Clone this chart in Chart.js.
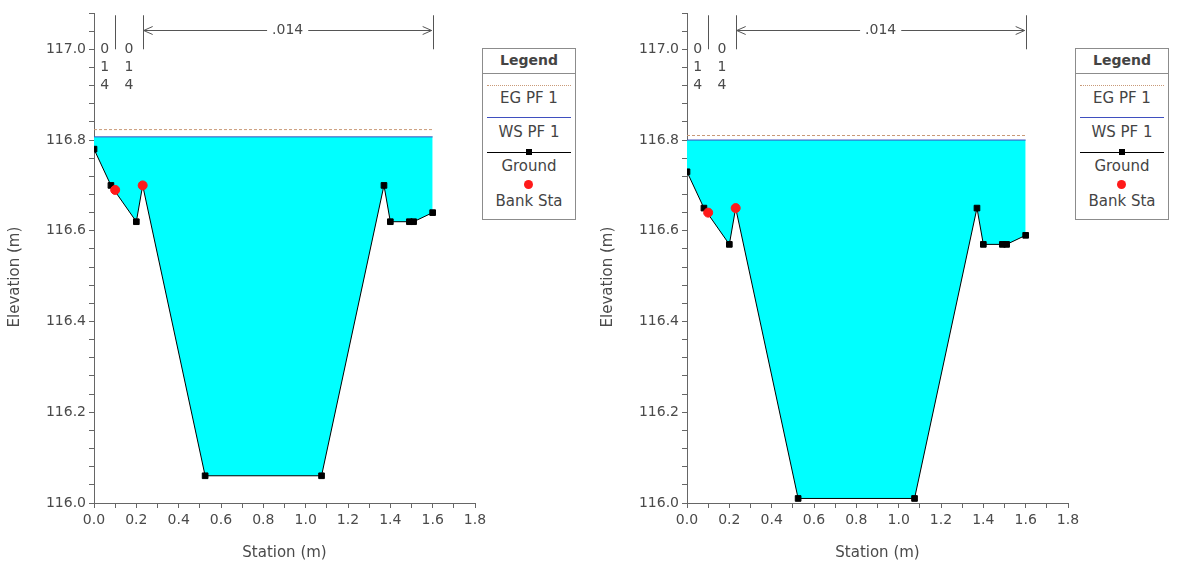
<!DOCTYPE html>
<html>
<head>
<meta charset="utf-8">
<script src="https://cdn.jsdelivr.net/npm/chart.js@4/dist/chart.umd.min.js"></script>
<style>
    body { margin: 0; background: #fff; }
    #wrap { position: relative; width: 1177px; height: 565px; overflow: hidden; font-family: "DejaVu Sans", sans-serif; color: #444; }
    .panel { position: absolute; top: 0; width: 495px; height: 565px; }
    .legend { position: absolute; top: 48px; width: 94px; height: 172px; border: 1px solid #8c8c8c; background: #fff; box-sizing: border-box; }
    .legend .title { position: absolute; left: 0; right: 0; top: 3px; text-align: center; font-weight: bold; font-size: 14px; }
    .legend .divider { position: absolute; left: 0; right: 0; top: 24px; border-top: 1px solid #8c8c8c; }
    .legend .label { position: absolute; left: 0; right: 0; text-align: center; font-size: 15px; line-height: 18px; }
    .legend .sample { position: absolute; left: 4px; right: 4px; height: 0; }
    .legend .mark { position: absolute; }
</style>
</head>
<body>
<div id="wrap">
    <div class="panel" style="left:0"><canvas id="chartLeft" width="495" height="565"></canvas></div>
    <div class="panel" style="left:593px"><canvas id="chartRight" width="495" height="565"></canvas></div>
    <div class="legend" id="legendLeft" style="left:482px"></div>
    <div class="legend" id="legendRight" style="left:1075px"></div>
</div>
<script>
// Ground survey points (same stations on both sections)
const stations = [0, 0.08, 0.2, 0.23, 0.525, 1.075, 1.37, 1.4, 1.49, 1.51, 1.6];
const groundLeft = [116.78, 116.70, 116.62, 116.70, 116.06, 116.06, 116.70, 116.62, 116.62, 116.62, 116.64];
const groundRight = [116.73, 116.65, 116.57, 116.65, 116.01, 116.01, 116.65, 116.57, 116.57, 116.57, 116.59];

// Bank stations
const bankStations = [0.1, 0.23];
const bankLeft = [116.69, 116.70];
const bankRight = [116.64, 116.65];

// Water surface / energy grade (station range + elevation)
const profileStations = [0, 1.6];
const wsLeft = 116.807;
const egLeft = 116.823;
const wsRight = 116.800;
const egRight = 116.810;

// Manning's n breaks
const nStations = [0, 0.1, 0.23, 1.6];
const nValues = ['.014', '.014', '.014'];

const legendLabels = ['EG PF 1', 'WS PF 1', 'Ground', 'Bank Sta'];

const xMin = 0, xMax = 1.8, xStep = 0.1;
const yMin = 116.0, yMax = 117.08, yStep = 0.04;

const FONT = '"DejaVu Sans", sans-serif';
const TEXT = '#4a4a4a';
const AXIS = '#666666';
const EG_COLOR = '#c99a78';
const WS_COLOR = '#3f4fbf';

function pts(xs, ys) {
    return xs.map((x, i) => ({ x: x, y: ys[i] }));
}

function isMajor(v, every) {
    const r = v / every;
    return Math.abs(r - Math.round(r)) < 1e-6;
}

// Draws the Manning's n markers above the water surface
const nValuePlugin = {
    id: 'nValues',
    afterDatasetsDraw(chart) {
        const { ctx, scales: { x, y } } = chart;
        const top = y.getPixelForValue(117.075);
        const bottom = y.getPixelForValue(117.0);
        const arrowY = Math.round(y.getPixelForValue(117.042)) + 0.5;
        ctx.save();
        ctx.strokeStyle = '#555';
        ctx.fillStyle = TEXT;
        ctx.lineWidth = 1;
        ctx.font = '14px ' + FONT;
        ctx.textAlign = 'center';
        ctx.textBaseline = 'middle';

        nStations.forEach((s, i) => {
            if (i === 0) return;
            const px = Math.round(x.getPixelForValue(s)) + 0.5;
            ctx.beginPath();
            ctx.moveTo(px, top);
            ctx.lineTo(px, bottom);
            ctx.stroke();
        });

        for (let i = 0; i < nValues.length; i++) {
            const x0 = x.getPixelForValue(nStations[i]);
            const x1 = x.getPixelForValue(nStations[i + 1]);
            const mid = (x0 + x1) / 2;
            const label = nValues[i];
            if (x1 - x0 > 60) {
                const half = ctx.measureText(label).width / 2 + 5;
                ctx.beginPath();
                ctx.moveTo(x0 + 1, arrowY);
                ctx.lineTo(mid - half, arrowY);
                ctx.moveTo(mid + half, arrowY);
                ctx.lineTo(x1 - 1, arrowY);
                ctx.stroke();
                // arrow heads
                ctx.beginPath();
                ctx.moveTo(x0 + 1, arrowY);
                ctx.lineTo(x0 + 10, arrowY - 4);
                ctx.moveTo(x0 + 1, arrowY);
                ctx.lineTo(x0 + 10, arrowY + 4);
                ctx.moveTo(x1 - 1, arrowY);
                ctx.lineTo(x1 - 10, arrowY - 4);
                ctx.moveTo(x1 - 1, arrowY);
                ctx.lineTo(x1 - 10, arrowY + 4);
                ctx.stroke();
                ctx.fillText(label, mid, arrowY);
            } else {
                const chars = label.replace('.', '').split('');
                const startY = y.getPixelForValue(117.0);
                chars.forEach((c, k) => ctx.fillText(c, mid, startY + k * 18));
            }
        }
        ctx.restore();
    }
};

function buildChart(canvasId, ground, bank, ws, eg) {
    const ctx = document.getElementById(canvasId);
    return new Chart(ctx, {
        type: 'scatter',
        data: {
            datasets: [
                {
                    label: legendLabels[0],
                    data: pts(profileStations, [eg, eg]),
                    showLine: true,
                    borderColor: EG_COLOR,
                    borderWidth: 1,
                    borderDash: [3, 2],
                    pointRadius: 0,
                    fill: false,
                    order: 2
                },
                {
                    label: legendLabels[1],
                    data: pts(profileStations, [ws, ws]),
                    showLine: true,
                    borderColor: WS_COLOR,
                    borderWidth: 1,
                    backgroundColor: '#00ffff',
                    pointRadius: 0,
                    fill: '+1',
                    order: 3
                },
                {
                    label: legendLabels[2],
                    data: pts(stations, ground),
                    showLine: true,
                    borderColor: '#000',
                    borderWidth: 1,
                    pointStyle: 'rect',
                    pointRadius: 4,
                    pointBackgroundColor: '#000',
                    pointBorderColor: '#000',
                    fill: false,
                    order: 1
                },
                {
                    label: legendLabels[3],
                    data: pts(bankStations, bank),
                    showLine: false,
                    pointStyle: 'circle',
                    pointRadius: 4.5,
                    pointBackgroundColor: '#ff1a1a',
                    pointBorderColor: '#ff1a1a',
                    order: 0
                }
            ]
        },
        options: {
            responsive: false,
            animation: false,
            devicePixelRatio: 1,
            layout: { padding: { top: 13, right: 20, left: 0, bottom: 0 } },
            scales: {
                x: {
                    type: 'linear',
                    min: xMin,
                    max: xMax,
                    afterFit(scale) {
                        scale.height = 62;
                        scale.paddingLeft = 0;
                        scale.paddingRight = 0;
                    },
                    grid: { drawOnChartArea: false, drawTicks: true, tickLength: 5, tickColor: AXIS },
                    border: { display: true, color: AXIS },
                    ticks: {
                        stepSize: xStep,
                        autoSkip: false,
                        maxRotation: 0,
                        padding: 4,
                        color: TEXT,
                        font: { family: FONT, size: 14 },
                        callback: v => isMajor(v, 0.2) ? v.toFixed(1) : ''
                    },
                    title: {
                        display: true,
                        text: 'Station (m)',
                        color: TEXT,
                        font: { family: FONT, size: 15 },
                        padding: { top: 0, bottom: 3 }
                    }
                },
                y: {
                    type: 'linear',
                    min: yMin,
                    max: yMax,
                    afterFit(scale) {
                        scale.width = 94;
                        scale.paddingTop = 0;
                        scale.paddingBottom = 0;
                    },
                    grid: { drawOnChartArea: false, drawTicks: true, tickLength: 5, tickColor: AXIS },
                    border: { display: true, color: AXIS },
                    ticks: {
                        stepSize: yStep,
                        autoSkip: false,
                        padding: 3,
                        color: TEXT,
                        font: { family: FONT, size: 14 },
                        callback: v => isMajor(v, 0.2) ? v.toFixed(1) : ''
                    },
                    title: {
                        display: true,
                        text: 'Elevation (m)        ',
                        color: TEXT,
                        font: { family: FONT, size: 15 },
                        padding: { top: 6, bottom: 0 }
                    }
                }
            },
            plugins: {
                legend: { display: false },
                tooltip: { enabled: false },
                filler: { drawTime: 'beforeDatasetsDraw' }
            }
        },
        plugins: [nValuePlugin]
    });
}

// HTML legend laid out like the HEC-RAS legend box
function buildLegend(id) {
    const box = document.getElementById(id);
    let html = '<div class="title">Legend</div><div class="divider"></div>';
    // EG
    html += '<div class="sample" style="top:36px;border-top:1px dotted ' + EG_COLOR + '"></div>';
    html += '<div class="label" style="top:40px">' + legendLabels[0] + '</div>';
    // WS
    html += '<div class="sample" style="top:68px;border-top:1px solid ' + WS_COLOR + '"></div>';
    html += '<div class="label" style="top:74px">' + legendLabels[1] + '</div>';
    // Ground
    html += '<div class="sample" style="top:103px;border-top:1px solid #000"></div>';
    html += '<div class="mark" style="left:43px;top:100px;width:6px;height:6px;background:#000"></div>';
    html += '<div class="label" style="top:108px">' + legendLabels[2] + '</div>';
    // Bank Sta
    html += '<div class="mark" style="left:41px;top:131px;width:9px;height:9px;border-radius:50%;background:#ff1a1a"></div>';
    html += '<div class="label" style="top:143px">' + legendLabels[3] + '</div>';
    box.innerHTML = html;
}

buildChart('chartLeft', groundLeft, bankLeft, wsLeft, egLeft);
buildChart('chartRight', groundRight, bankRight, wsRight, egRight);
buildLegend('legendLeft');
buildLegend('legendRight');
</script>
</body>
</html>
